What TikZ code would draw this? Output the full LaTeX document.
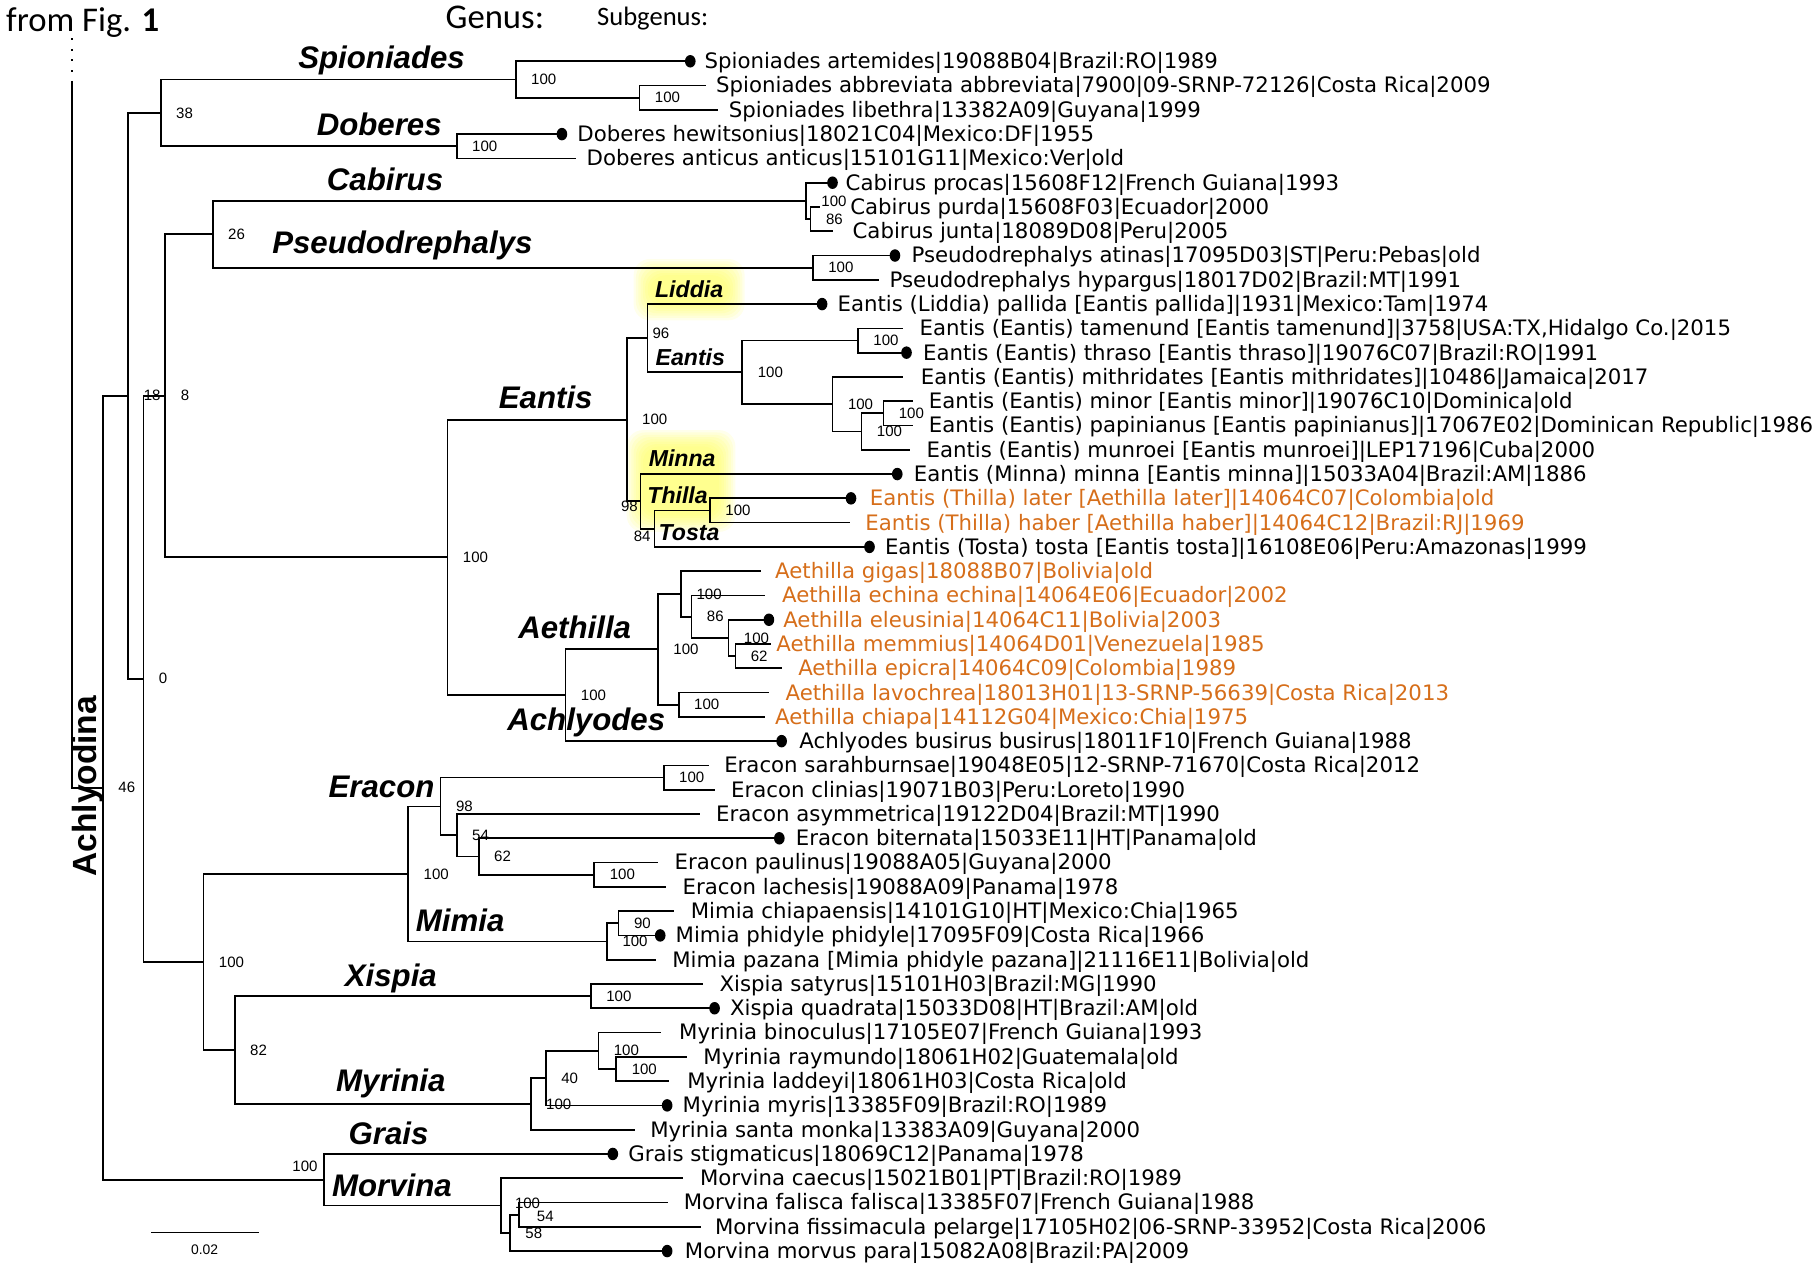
\documentclass[tikz,border=0pt]{standalone}
\usepackage{fontspec}
\setmainfont{DejaVu Sans}
\newfontfamily\arialfont{Liberation Sans}
\newfontfamily\calfont{Carlito}
\usetikzlibrary{positioning}
\definecolor{aeth}{RGB}{214,110,26}
\definecolor{glowy}{RGB}{255,255,70}
\tikzset{
  br/.style={line width=0.75pt},
  leaf/.style={anchor=base west, inner sep=0pt, yshift=-3.2pt, font=\fontsize{9.2}{10}\selectfont},
  aleaf/.style={leaf, text=aeth},
  genus/.style={anchor=base, inner sep=0pt, yshift=-4.8pt, font=\arialfont\bfseries\itshape\fontsize{13.5}{14}\selectfont},
  subgen/.style={anchor=base, inner sep=0pt, yshift=-3.6pt, font=\arialfont\bfseries\itshape\fontsize{10}{11}\selectfont},
  bs/.style={anchor=west, inner sep=0pt, font=\arialfont\fontsize{6.5}{7}\selectfont},
}
\begin{document}
\begin{tikzpicture}[x=0.5pt, y=-0.5pt]
  \useasboundingbox (0,0) rectangle (1568,1097);

  % yellow glow behind subgenera
  \foreach \e in {0,2,...,14} {
    \fill[glowy, opacity=.11, rounded corners=7pt] (562-\e,238-\e) rectangle (630+\e,263+\e);
    \fill[glowy, opacity=.11, rounded corners=7pt] (556-\e,386-\e) rectangle (622+\e,446+\e);
  }

  \node[anchor=base west, inner sep=0pt, font=\calfont\fontsize{15}{16}\selectfont] (fromFig) at (5,27) {from Fig. \textbf{1}};
  \node[anchor=base west, inner sep=0pt, font=\calfont\fontsize{15}{16}\selectfont] (hGenus) at (385,25) {Genus:};
  \node[anchor=base west, inner sep=0pt, font=\calfont\fontsize{11.5}{12}\selectfont] (hSub) at (516,22) {Subgenus:};

  % internal nodes
  \coordinate (dotTop) at (62,33);
  \coordinate (dotBot) at (62,64);
  \coordinate (stem) at (62,70);
  \coordinate (nA) at (89,681.3);
  \coordinate (nB) at (111,342.3);
  \coordinate (n38) at (139,97.6);
  \coordinate (nSpio) at (446,68.75);
  \coordinate (nSpio2) at (553,84.5);
  \coordinate (nDob) at (395,126.5);
  \coordinate (nC) at (124,587);
  \coordinate (nD) at (143,342.3);
  \coordinate (n26) at (184,202.6);
  \coordinate (nCab) at (697,173.75);
  \coordinate (nCab2) at (701,189.5);
  \coordinate (nPse) at (703,231.5);
  \coordinate (nF) at (387,482);
  \coordinate (nEan) at (542,363);
  \coordinate (nLid) at (560,292.5);
  \coordinate (nEa) at (642,322);
  \coordinate (nEa1) at (742,294.5);
  \coordinate (nEa2) at (720,349.6);
  \coordinate (nEa3) at (745,373.25);
  \coordinate (nEa4) at (764,357.5);
  \coordinate (nMin) at (554,433.6);
  \coordinate (nTos) at (566,457.25);
  \coordinate (nThi) at (614,441.5);
  \coordinate (nAch) at (489,601.3);
  \coordinate (nAet) at (569,561.6);
  \coordinate (nAe1) at (589,513.7);
  \coordinate (nAe2) at (598,533.4);
  \coordinate (nAe3) at (630,551.75);
  \coordinate (nAe4) at (636,567.5);
  \coordinate (nAe5) at (587,609.5);
  \coordinate (nE) at (176,832);
  \coordinate (nEM) at (353,755.8);
  \coordinate (nEra) at (381,697.4);
  \coordinate (nEr1) at (574,672.5);
  \coordinate (nEr2) at (395,722.4);
  \coordinate (nEr3) at (414,740.75);
  \coordinate (nEr4) at (514,756.5);
  \coordinate (nMim) at (525,814.25);
  \coordinate (nMi1) at (535,798.5);
  \coordinate (n82) at (203,908);
  \coordinate (nXis) at (511,861.5);
  \coordinate (nMyr) at (459,954.7);
  \coordinate (nMy1) at (472,932.4);
  \coordinate (nMy2) at (517.5,908.75);
  \coordinate (nMy3) at (533,924.5);
  \coordinate (nGM) at (280,1020.3);
  \coordinate (nMor) at (433,1042.6);
  \coordinate (nMo1) at (441,1066.25);
  \coordinate (nMo2) at (449,1050.5);

  % branch tips
  \foreach \i/\x in {1/597,2/611,3/621,4/486,5/498,6/720,7/709,8/720,9/774,10/760,
      11/711,12/781,13/784,14/781,15/790,16/790,17/787,18/776,19/736,20/735,
      21/752,22/658,23/662,24/665,25/667,26/676,27/665,28/662,29/676,30/613,
      31/618,32/605,33/674,34/569,35/576,36/583,37/571,38/567,39/608,40/618,
      41/572,42/594,43/579,44/577,45/549,46/530,47/591,48/578,49/606,50/577}
    \coordinate (t\i) at (\x,{53+21*(\i-1)});

  \draw[br, dash pattern=on 0.8pt off 3.8pt] (dotTop) -- (dotBot);
  \draw[br] (stem) |- (nA);
  \foreach \pa/\ch in {nA/nB, nA/nGM, nB/n38, nB/nC, n38/nSpio, n38/nDob,
      nSpio/t1, nSpio/nSpio2, nSpio2/t2, nSpio2/t3, nDob/t4, nDob/t5,
      nC/nD, nC/nE, nD/n26, nD/nF, n26/nCab, n26/nPse, nCab/t6, nCab/nCab2,
      nCab2/t7, nCab2/t8, nPse/t9, nPse/t10, nF/nEan, nF/nAch,
      nEan/nLid, nEan/nMin, nLid/t11, nLid/nEa, nEa/nEa1, nEa/nEa2,
      nEa1/t12, nEa1/t13, nEa2/t14, nEa2/nEa3, nEa3/nEa4, nEa3/t17,
      nEa4/t15, nEa4/t16, nMin/t18, nMin/nTos, nTos/nThi, nTos/t21,
      nThi/t19, nThi/t20, nAch/nAet, nAch/t29, nAet/nAe1, nAet/nAe5,
      nAe1/t22, nAe1/nAe2, nAe2/t23, nAe2/nAe3, nAe3/t24, nAe3/nAe4,
      nAe4/t25, nAe4/t26, nAe5/t27, nAe5/t28, nE/nEM, nE/n82,
      nEM/nEra, nEM/nMim, nEra/nEr1, nEra/nEr2, nEr1/t30, nEr1/t31,
      nEr2/t32, nEr2/nEr3, nEr3/t33, nEr3/nEr4, nEr4/t34, nEr4/t35,
      nMim/nMi1, nMim/t38, nMi1/t36, nMi1/t37, n82/nXis, n82/nMyr,
      nXis/t39, nXis/t40, nMyr/nMy1, nMyr/t45, nMy1/nMy2, nMy1/t44,
      nMy2/t41, nMy2/nMy3, nMy3/t42, nMy3/t43, nGM/t46, nGM/nMor,
      nMor/t47, nMor/nMo1, nMo1/nMo2, nMo1/t50, nMo2/t48, nMo2/t49}
    \draw[br] (\pa) |- (\ch);

  \foreach \t in {t1,t4,t6,t9,t11,t13,t18,t19,t21,t24,t29,t33,t37,t40,t44,t46,t50}
    \fill (\t) ellipse[x radius=2.3pt, y radius=2.7pt];

  % support values
  \foreach \nd/\bv in {n38/38, nSpio/100, nSpio2/100, nDob/100, nCab/100, nCab2/86,
      nPse/100, n26/26, nB/18, nD/8, nC/0, nA/46, nEa/100, nEa1/100, nEa2/100,
      nEa3/100, nEa4/100, nEan/100, nThi/100, nF/100, nAch/100, nAet/100,
      nAe1/100, nAe2/86, nAe3/100, nAe4/62, nAe5/100, nEM/100, nEra/98,
      nEr1/100, nEr2/54, nEr3/62, nEr4/100, nMim/100, nMi1/90, nE/100,
      nXis/100, n82/82, nMyr/100, nMy1/40, nMy2/100, nMy3/100, nMo1/58}
    \node[bs, xshift=6.5pt] at (\nd) {\bv};
  \node[bs, xshift=6pt, yshift=1pt] at (nMor) {100};
  \node[bs, xshift=7.5pt, yshift=-0.8pt] at (nMo2) {54};
  \node[bs, xshift=2pt, yshift=2pt] at (nLid) {96};
  \node[bs, anchor=east, xshift=-1pt, yshift=-2.2pt] at (nMin) {98};
  \node[bs, anchor=east, xshift=-1.5pt, yshift=-3.5pt] at (nTos) {84};
  \node[bs, anchor=east, xshift=-2.5pt, yshift=6pt] at (nGM) {100};

  % genera and subgenera
  \node[genus] (gSpio) at (330,50) {Spioniades};
  \node[genus] (gDob) at (328,108) {Doberes};
  \node[genus] (gCab) at (333,155) {Cabirus};
  \node[genus] (gPse) at (348,210) {Pseudodrephalys};
  \node[genus] (gEan) at (472,344) {Eantis};
  \node[genus] (gAet) at (497,543) {Aethilla};
  \node[genus] (gAch) at (507,622) {Achlyodes};
  \node[genus] (gEra) at (330,680) {Eracon};
  \node[genus] (gMim) at (398,796) {Mimia};
  \node[genus] (gXis) at (338,844) {Xispia};
  \node[genus] (gMyr) at (338,934) {Myrinia};
  \node[genus] (gGra) at (336,980) {Grais};
  \node[genus] (gMor) at (339,1025) {Morvina};
  \node[subgen] (sLid) at (596,250) {Liddia};
  \node[subgen] (sEan) at (597,309) {Eantis};
  \node[subgen] (sMin) at (590,396) {Minna};
  \node[subgen] (sThi) at (586,428) {Thilla};
  \node[subgen] (sTos) at (596,460) {Tosta};

  \node[rotate=90, inner sep=0pt, font=\arialfont\bfseries\fontsize{14.5}{15}\selectfont] (clade) at (76,680) {Achlyodina};

  % leaves
  \node[leaf] (l1) at (609,53) {Spioniades artemides|19088B04|Brazil:RO|1989};
  \node[leaf] (l2) at (619,74) {Spioniades abbreviata abbreviata|7900|09-SRNP-72126|Costa Rica|2009};
  \node[leaf] (l3) at (630,95) {Spioniades libethra|13382A09|Guyana|1999};
  \node[leaf] (l4) at (499,116) {Doberes hewitsonius|18021C04|Mexico:DF|1955};
  \node[leaf] (l5) at (507,137) {Doberes anticus anticus|15101G11|Mexico:Ver|old};
  \node[leaf] (l6) at (731,158) {Cabirus procas|15608F12|French Guiana|1993};
  \node[leaf] (l7) at (735,179) {Cabirus purda|15608F03|Ecuador|2000};
  \node[leaf] (l8) at (737,200) {Cabirus junta|18089D08|Peru|2005};
  \node[leaf] (l9) at (788,221) {Pseudodrephalys atinas|17095D03|ST|Peru:Pebas|old};
  \node[leaf] (l10) at (769,242) {Pseudodrephalys hypargus|18017D02|Brazil:MT|1991};
  \node[leaf] (l11) at (724,263) {Eantis (Liddia) pallida [Eantis pallida]|1931|Mexico:Tam|1974};
  \node[leaf] (l12) at (795,284) {Eantis (Eantis) tamenund [Eantis tamenund]|3758|USA:TX,Hidalgo Co.|2015};
  \node[leaf] (l13) at (798,305) {Eantis (Eantis) thraso [Eantis thraso]|19076C07|Brazil:RO|1991};
  \node[leaf] (l14) at (796,326) {Eantis (Eantis) mithridates [Eantis mithridates]|10486|Jamaica|2017};
  \node[leaf] (l15) at (803,347) {Eantis (Eantis) minor [Eantis minor]|19076C10|Dominica|old};
  \node[leaf] (l16) at (803,368) {Eantis (Eantis) papinianus [Eantis papinianus]|17067E02|Dominican Republic|1986};
  \node[leaf] (l17) at (801,389) {Eantis (Eantis) munroei [Eantis munroei]|LEP17196|Cuba|2000};
  \node[leaf] (l18) at (790,410) {Eantis (Minna) minna [Eantis minna]|15033A04|Brazil:AM|1886};
  \node[aleaf] (l19) at (752,431) {Eantis (Thilla) later [Aethilla later]|14064C07|Colombia|old};
  \node[aleaf] (l20) at (748,452) {Eantis (Thilla) haber [Aethilla haber]|14064C12|Brazil:RJ|1969};
  \node[leaf] (l21) at (765,473) {Eantis (Tosta) tosta [Eantis tosta]|16108E06|Peru:Amazonas|1999};
  \node[aleaf] (l22) at (670,494) {Aethilla gigas|18088B07|Bolivia|old};
  \node[aleaf] (l23) at (676,515) {Aethilla echina echina|14064E06|Ecuador|2002};
  \node[aleaf] (l24) at (677,536) {Aethilla eleusinia|14064C11|Bolivia|2003};
  \node[aleaf] (l25) at (671,557) {Aethilla memmius|14064D01|Venezuela|1985};
  \node[aleaf] (l26) at (690,578) {Aethilla epicra|14064C09|Colombia|1989};
  \node[aleaf] (l27) at (679,599) {Aethilla lavochrea|18013H01|13-SRNP-56639|Costa Rica|2013};
  \node[aleaf] (l28) at (670,620) {Aethilla chiapa|14112G04|Mexico:Chia|1975};
  \node[leaf] (l29) at (691,641) {Achlyodes busirus busirus|18011F10|French Guiana|1988};
  \node[leaf] (l30) at (626,662) {Eracon sarahburnsae|19048E05|12-SRNP-71670|Costa Rica|2012};
  \node[leaf] (l31) at (632,683) {Eracon clinias|19071B03|Peru:Loreto|1990};
  \node[leaf] (l32) at (619,704) {Eracon asymmetrica|19122D04|Brazil:MT|1990};
  \node[leaf] (l33) at (688,725) {Eracon biternata|15033E11|HT|Panama|old};
  \node[leaf] (l34) at (583,746) {Eracon paulinus|19088A05|Guyana|2000};
  \node[leaf] (l35) at (590,767) {Eracon lachesis|19088A09|Panama|1978};
  \node[leaf] (l36) at (597,788) {Mimia chiapaensis|14101G10|HT|Mexico:Chia|1965};
  \node[leaf] (l37) at (584,809) {Mimia phidyle phidyle|17095F09|Costa Rica|1966};
  \node[leaf] (l38) at (581,830) {Mimia pazana [Mimia phidyle pazana]|21116E11|Bolivia|old};
  \node[leaf] (l39) at (622,851) {Xispia satyrus|15101H03|Brazil:MG|1990};
  \node[leaf] (l40) at (631,872) {Xispia quadrata|15033D08|HT|Brazil:AM|old};
  \node[leaf] (l41) at (587,893) {Myrinia binoculus|17105E07|French Guiana|1993};
  \node[leaf] (l42) at (608,914) {Myrinia raymundo|18061H02|Guatemala|old};
  \node[leaf] (l43) at (594,935) {Myrinia laddeyi|18061H03|Costa Rica|old};
  \node[leaf] (l44) at (590,956) {Myrinia myris|13385F09|Brazil:RO|1989};
  \node[leaf] (l45) at (562,977) {Myrinia santa monka|13383A09|Guyana|2000};
  \node[leaf] (l46) at (543,998) {Grais stigmaticus|18069C12|Panama|1978};
  \node[leaf] (l47) at (605,1019) {Morvina caecus|15021B01|PT|Brazil:RO|1989};
  \node[leaf] (l48) at (591,1040) {Morvina falisca falisca|13385F07|French Guiana|1988};
  \node[leaf] (l49) at (618,1061) {Morvina fissimacula pelarge|17105H02|06-SRNP-33952|Costa Rica|2006};
  \node[leaf] (l50) at (592,1082) {Morvina morvus para|15082A08|Brazil:PA|2009};

  % scale bar
  \coordinate (sbL) at (131,1066);
  \coordinate (sbR) at (224,1066);
  \draw[br] (sbL) -- (sbR);
  \node[inner sep=0pt, font=\arialfont\fontsize{6}{7}\selectfont] (sbLbl) at (177,1081) {0.02};
\end{tikzpicture}
\end{document}
